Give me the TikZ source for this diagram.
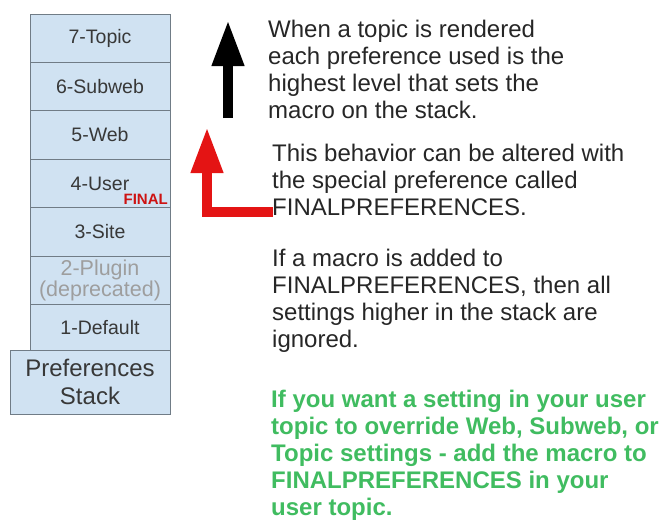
\documentclass[tikz,border=0pt]{standalone}
\usepackage{fontspec}
\setmainfont{Liberation Sans}
\usetikzlibrary{positioning,arrows.meta}
\definecolor{levelfill}{RGB}{208,226,242}
\definecolor{leveldraw}{RGB}{112,124,134}
\definecolor{notegreen}{RGB}{64,188,96}
\definecolor{finalred}{RGB}{228,20,20}

\begin{document}
\begin{tikzpicture}[x=1pt,y=-1pt,
  level/.style={draw=leveldraw,fill=levelfill,line width=0.9pt,outer sep=0pt,
    minimum width=140pt,minimum height=48.4pt,inner sep=0pt,text=black!78,
    font=\fontsize{19.5}{20}\selectfont},
  note/.style={anchor=base west,align=left,inner sep=0pt,text=black!85,
    font=\fontsize{24}{27}\selectfont},
  bigarrow/.style={line width=10pt,-{Triangle[width=30pt,length=46pt]}}]
  \useasboundingbox (0,0) rectangle (668,522);

  % the stack
  \node[level] (topic) at (100,38.2) {7-Topic};
  \node[level,below=0pt of topic] (subweb) {6-Subweb};
  \node[level,below=0pt of subweb] (web) {5-Web};
  \node[level,below=0pt of web] (user) {4-User};
  \node[level,below=0pt of user] (site) {3-Site};
  \node[level,below=0pt of site,align=center,text=black!38,
    font=\fontsize{21.5}{18.5}\selectfont] (plugin) {2-Plugin\\(deprecated)};
  \node[level,below=0pt of plugin,minimum height=46pt] (default) {1-Default};
  \node[level,anchor=north east,minimum width=160pt,minimum height=64pt,
    align=center,font=\fontsize{24}{28}\selectfont] (stack) at (default.south east)
    {Preferences\\Stack};
  \node[anchor=south east,inner sep=0pt,text=finalred!90!black,
    font=\bfseries\fontsize{15}{15}\selectfont] (final) at (168,205) {FINAL};

  % arrows
  \coordinate (up0) at (228,118);
  \coordinate (up1) at (228,20);
  \draw[bigarrow] (up0) -- (up1);
  \coordinate (fin0) at (273,212);
  \coordinate (fin1) at (207,212);
  \coordinate (fin2) at (207,127);
  \draw[bigarrow,draw=finalred] (fin0) -- (fin1) -- (fin2);

  % notes (placed by the baseline of their last line)
  \node[note] (rendered) at (268,118) {When a topic is rendered\\each preference used is the\\highest level that sets the\\macro on the stack.};
  \node[note] (altered) at (272,215) {This behavior can be altered with\\the special preference called\\FINALPREFERENCES.};
  \node[note] (ignored) at (272,347) {If a macro is added to\\FINALPREFERENCES, then all\\settings higher in the stack are\\ignored.};
  \node[note,text=notegreen,font=\bfseries\fontsize{24}{26.8}\selectfont] (advice) at (271,515)
    {If you want a setting in your user\\topic to override Web, Subweb, or\\Topic settings - add the macro to\\FINALPREFERENCES in your\\user topic.};
\end{tikzpicture}
\end{document}
